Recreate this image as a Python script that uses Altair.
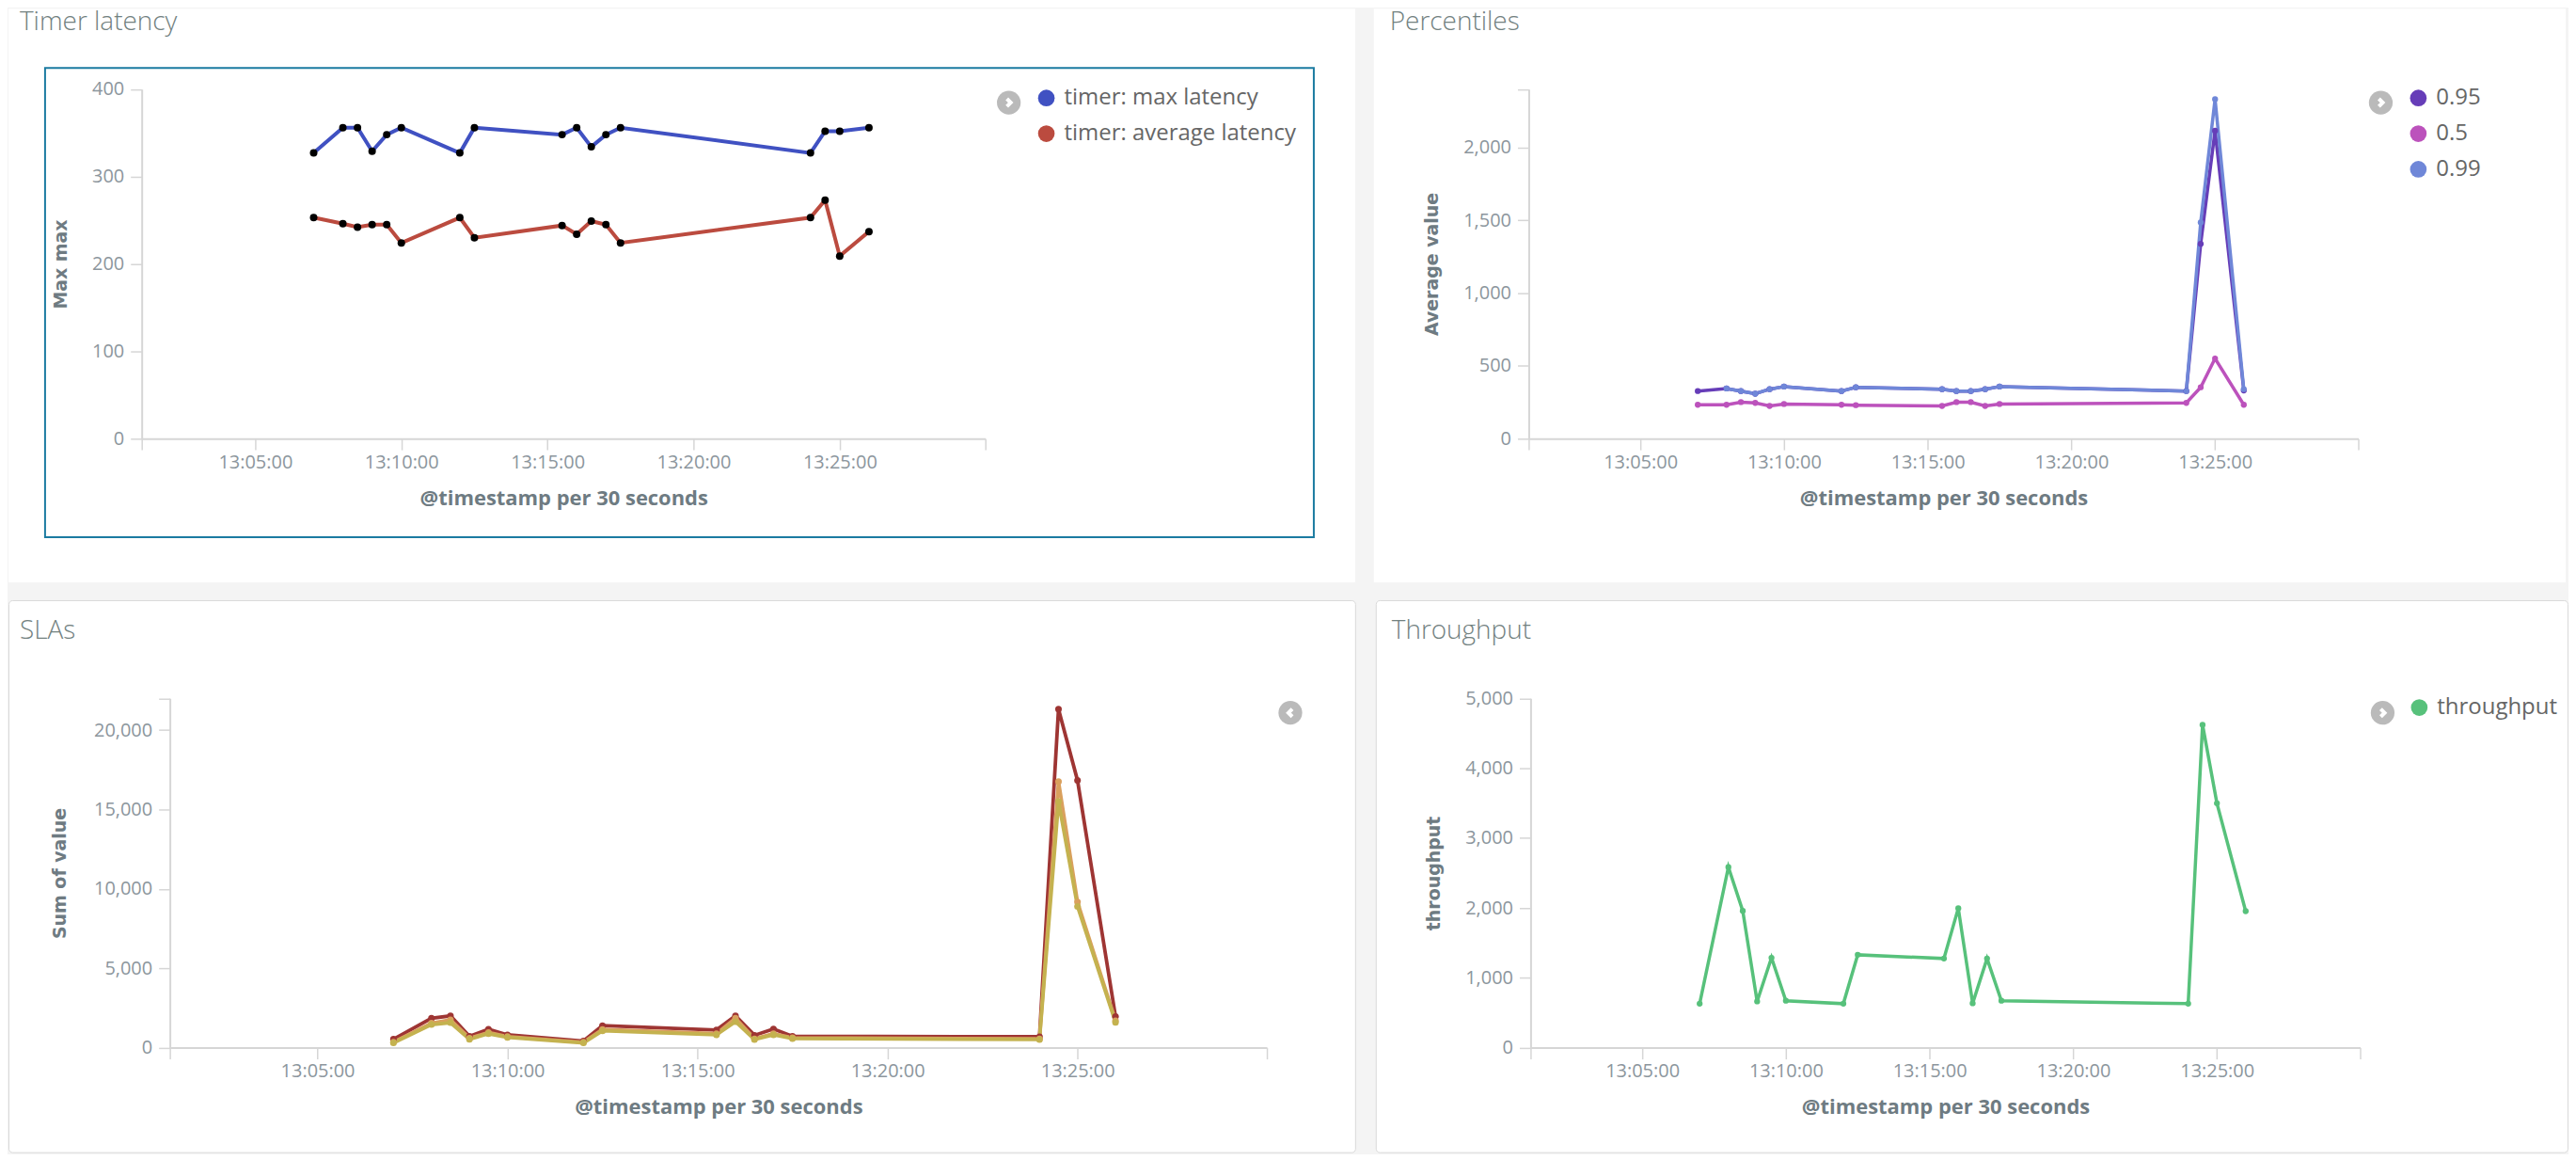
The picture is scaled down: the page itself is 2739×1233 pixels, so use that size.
import altair as alt
import pandas as pd

DAY = "2017-05-10T"
times = ["13:07:00", "13:08:00", "13:08:30", "13:09:00", "13:09:30", "13:10:00",
         "13:12:00", "13:12:30", "13:15:30", "13:16:00", "13:16:30", "13:17:00",
         "13:17:30", "13:24:00", "13:24:30", "13:25:00", "13:26:00"]

# Timer latency
max_latency = [327, 356, 356, 329, 348, 356, 327, 356, 348, 356, 334, 348, 356, 327, 352, 352, 356]
avg_latency = [253, 246, 242, 245, 245, 224, 253, 230, 244, 234, 249, 245, 224, 253, 273, 209, 237]

# Percentiles
p95 = [326, 344, 326, 308, 339, 357, 326, 352, 339, 326, 326, 339, 357, 326, 1338, 2115, 330]
p50 = [232, 232, 250, 245, 224, 237, 232, 229, 224, 250, 250, 224, 237, 245, 352, 550, 232]
p99 = [None, 344, 326, 308, 339, 357, 326, 352, 339, 326, 326, 339, 357, 326, 1485, 2331, 339]

# SLAs
sla_a = [532, 1850, 2000, 717, 1156, 809, 416, 1387, 1110, 2000, 780, 1180, 720, 690, 21320, 16840, 1960]
sla_b = [350, 1550, 1750, 600, 950, 700, 340, 1150, 880, 1850, 560, 880, 620, 560, 16760, 9170, 1700]
sla_c = [300, 1457, 1572, 532, 879, 647, 300, 1063, 809, 1640, 515, 810, 574, 515, 15500, 8900, 1597]

# Throughput
throughput = [630, 2584, 1959, 662, 1287, 672, 630, 1329, 1276, 1996, 635, 1276, 672, 630, 4622, 3498, 1954]


def long_df(pairs):
    rows = []
    for name, vals in pairs:
        for t, v in zip(times, vals):
            if v is None:
                continue
            rows.append({"t": DAY + t, "series": name, "v": v})
    return pd.DataFrame(rows)


def dt(h, m, s):
    return alt.DateTime(year=2017, month=5, date=10, hours=h, minutes=m, seconds=s)


X_DOMAIN = [dt(13, 1, 7), dt(13, 29, 59)]
X_TICKS = [dt(13, 1, 7), dt(13, 5, 0), dt(13, 10, 0), dt(13, 15, 0),
           dt(13, 20, 0), dt(13, 25, 0), dt(13, 29, 59)]

FONT = "Open Sans"
TITLE_C = "#72817f"
LABEL_C = "#8c969d"
AXTITLE_C = "#6e7b82"
AXIS_LINE = "#d6d6d6"
LEG_C = "#666666"
ONE = alt.Data(values=[{"a": 1}])


def panel(df, dom, rng, pw, ph, title, title_xy, xr, yr, ydom, yticks, ylab_max,
          ytitle, ytitle_local, xtitle_local, line_w, pt_size, pt_black,
          legend_xy, arrow_xy, arrow_left, stroke, box=None):
    xenc = alt.X(
        "t:T",
        scale=alt.Scale(domain=X_DOMAIN, range=xr, nice=False),
        axis=alt.Axis(
            values=X_TICKS,
            labelExpr="seconds(datum.value) == 0 && minutes(datum.value) % 5 == 0 ? timeFormat(datum.value, '%H:%M:%S') : ''",
            title="@timestamp per 30 seconds", offset=yr[0] - ph, grid=False,
            domainColor=AXIS_LINE, domainWidth=2, tickColor=AXIS_LINE, tickWidth=1.5,
            tickSize=12, labelFont=FONT, labelFontSize=20, labelColor=LABEL_C,
            labelPadding=3, labelOverlap=False, labelFlush=False,
            titleFont=FONT, titleFontSize=22, titleFontWeight="bold", titleColor=AXTITLE_C,
            titleY=xtitle_local - yr[0], titleBaseline="middle"),
    )
    yenc = alt.Y(
        "v:Q",
        scale=alt.Scale(domain=ydom, range=yr, nice=False, zero=True),
        axis=alt.Axis(
            values=yticks,
            labelExpr=f"datum.value > {ylab_max} ? '' : format(datum.value, ',')",
            title=ytitle, offset=-xr[0], grid=False,
            domainColor=AXIS_LINE, domainWidth=2, tickColor=AXIS_LINE, tickWidth=1.5,
            tickSize=12, labelFont=FONT, labelFontSize=20, labelColor=LABEL_C,
            labelPadding=7, labelOverlap=False,
            titleFont="DejaVu Sans", titleFontSize=19, titleFontWeight="bold",
            titleColor=AXTITLE_C, titleX=ytitle_local - xr[0], titleBaseline="middle"),
    )
    cscale = alt.Scale(domain=dom, range=rng)
    base = alt.Chart(df)
    layers = []
    layers.append(alt.Chart(ONE).mark_text(
        text=title, align="left", baseline="alphabetic", font=FONT, fontSize=28,
        fontWeight=300, color=TITLE_C).encode(x=alt.value(title_xy[0]), y=alt.value(title_xy[1])))
    if box is not None:
        layers.append(alt.Chart(ONE).mark_rect(
            fill="white", fillOpacity=0, stroke="#1b7ba1", strokeWidth=2).encode(
            x=alt.value(box[0]), x2=alt.value(box[1]), y=alt.value(box[2]), y2=alt.value(box[3])))
    layers.append(base.mark_line(strokeWidth=line_w).encode(
        x=xenc, y=yenc, color=alt.Color("series:N", scale=cscale, legend=None),
        detail="series:N"))
    if pt_black:
        layers.append(base.mark_circle(size=pt_size, opacity=1, color="black").encode(
            x="t:T", y="v:Q", detail="series:N"))
    else:
        layers.append(base.mark_circle(size=pt_size, opacity=1).encode(
            x="t:T", y="v:Q", color=alt.Color("series:N", scale=cscale, legend=None)))
    if legend_xy is not None:
        layers.append(base.mark_circle(opacity=0, size=1).encode(
            x="t:T", y="v:Q",
            color=alt.Color("series:N", scale=cscale, legend=alt.Legend(
                orient="none", legendX=legend_xy[0] - 10, legendY=legend_xy[1] - 12,
                title=None, symbolType="circle", symbolSize=314, symbolStrokeWidth=0,
                symbolOpacity=1, labelFont=FONT, labelFontSize=24, labelColor=LEG_C,
                labelOffset=7, rowPadding=14, padding=0, labelLimit=0))))
    layers.append(alt.Chart(ONE).mark_point(
        shape="circle", filled=True, size=640, color="#bababa", opacity=1).encode(
        x=alt.value(arrow_xy[0]), y=alt.value(arrow_xy[1])))
    chev = "M-0.2,-0.4L0.2,0L-0.2,0.4" if not arrow_left else "M0.2,-0.4L-0.2,0L0.2,0.4"
    layers.append(alt.Chart(ONE).mark_point(
        shape=chev, filled=False, size=420, stroke="white", strokeWidth=4, opacity=1).encode(
        x=alt.value(arrow_xy[0]), y=alt.value(arrow_xy[1])))
    view = alt.ViewBackground(fill="white", stroke=stroke, strokeWidth=1, cornerRadius=4) \
        if stroke else alt.ViewBackground(fill="white", strokeWidth=0)
    return alt.layer(*layers).resolve_legend(color="independent").properties(
        width=pw, height=ph, view=view)


timer_df = long_df([("timer: max latency", max_latency), ("timer: average latency", avg_latency)])
pct_df = long_df([("0.95", p95), ("0.5", p50), ("0.99", p99)])
sla_df = long_df([("SLA A", sla_a), ("SLA B", sla_b), ("SLA C", sla_c)])
thr_df = long_df([("throughput", throughput)])

tl = panel(timer_df, ["timer: max latency", "timer: average latency"], ["#4051c2", "#bb4b3f"],
           1435, 611, "Timer latency", (12, 23), [142, 1041], [457.8, 85.7], [0, 400],
           [0, 100, 200, 300, 400], 400, "Max max", 56, 521, 4, 64, True,
           (1104, 95), (1066, 100), False, None, box=(39, 1391, 63, 563))
tr = panel(pct_df, ["0.95", "0.5", "0.99"], ["#663db8", "#bc52bc", "#6f87d8"],
           1270, 611, "Percentiles", (17, 23), [165, 1049], [457.8, 85.7], [0, 2400],
           [0, 500, 1000, 1500, 2000, 2400], 2000, "Average value", 61.5, 521, 3.5, 40, False,
           (1111, 95), (1073, 100), False, None)
bl = panel(sla_df, ["SLA A", "SLA B", "SLA C"], ["#9e3533", "#daa05d", "#c4b24f"],
           1435, 588, "SLAs", (12, 41), [172, 1341], [476.7, 104.6], [0, 22000],
           [0, 5000, 10000, 15000, 20000, 22000], 20000, "Sum of value", 54.4, 540, 3.8, 50, False,
           None, (1366, 120), True, "#d9d9d9")
br = panel(thr_df, ["throughput"], ["#57c17b"],
           1270, 588, "Throughput", (17, 41), [165, 1049], [476.7, 104.6], [0, 5000],
           [0, 1000, 2000, 3000, 4000, 5000], 5000, "throughput", 61.5, 540, 3.5, 40, False,
           (1110, 114.4), (1073, 120), False, "#d9d9d9")

top = alt.hconcat(tl, tr, spacing=20).resolve_scale(color="independent", x="independent", y="independent")
bottom = alt.hconcat(bl, br, spacing=20).resolve_scale(color="independent", x="independent", y="independent")
chart = alt.vconcat(top, bottom, spacing=18).resolve_scale(
    color="independent", x="independent", y="independent").properties(
    padding=0, background="#f4f4f4").configure_view(strokeWidth=0)

chart.save("out.html", embed_options={"renderer": "svg", "actions": False})
